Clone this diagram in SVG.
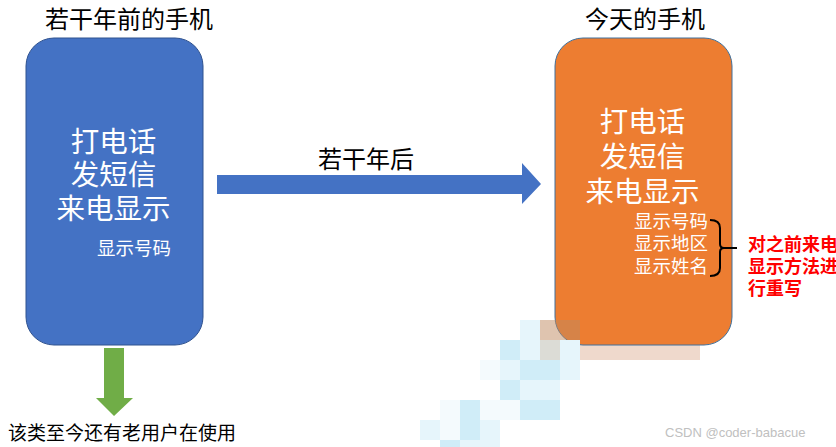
<svg xmlns="http://www.w3.org/2000/svg" width="836" height="447" viewBox="0 0 836 447">
<style>
text{font-family:"Noto Sans CJK SC","Noto Sans",sans-serif;}
.title{font-size:24px;fill:#000;text-anchor:middle;}
.big{font-size:28.5px;fill:#fff;text-anchor:middle;}
.small{font-size:18.5px;fill:#fff;}
.red{font-size:18px;fill:#ff0000;font-weight:bold;}
.wm{font-family:"Liberation Sans",sans-serif;font-size:13px;fill:#c0c0c0;}
.m1{fill:#d0edf8;}
.m2{fill:#e6f5fb;}
.m3{fill:#f4fafd;}
</style>
<rect width="836" height="447" fill="#fff"/>
<g id="mosaic-back">
<rect x="580" y="342" width="120" height="18" fill="#efd9cc"/>
</g>
<g id="old-phone">
<text class="title" x="129" y="27.5">若干年前的手机</text>
<rect x="26" y="38" width="177" height="307" rx="28" fill="#4472C4" stroke="#2F528F" stroke-width="1"/>
<text class="big" x="113.5" y="152">打电话</text>
<text class="big" x="113.5" y="185">发短信</text>
<text class="big" x="113.5" y="219">来电显示</text>
<text class="small" x="97" y="255">显示号码</text>
</g>
<g id="new-phone">
<text class="title" x="645" y="27.5">今天的手机</text>
<rect x="555" y="38" width="177" height="307" rx="28" fill="#ED7D31" stroke="#41719C" stroke-width="1"/>
<text class="big" x="642.5" y="132">打电话</text>
<text class="big" x="642.5" y="167">发短信</text>
<text class="big" x="642.5" y="202">来电显示</text>
<text class="small" x="634" y="228">显示号码</text>
<text class="small" x="634" y="250">显示地区</text>
<text class="small" x="634" y="273">显示姓名</text>
</g>
<g id="mosaic">
<rect x="540" y="320" width="40" height="20" fill="#c08a60" opacity="0.5"/>
<rect x="560" y="340" width="20" height="20" class="m2"/>
<rect x="520" y="320" width="20" height="20" class="m2"/>
<rect x="500" y="340" width="20" height="20" class="m1"/>
<rect x="520" y="340" width="20" height="20" class="m2"/>
<rect x="540" y="340" width="20" height="20" fill="#dcdcd6"/>
<rect x="480" y="360" width="20" height="20" class="m3"/>
<rect x="500" y="360" width="20" height="20" class="m2"/>
<rect x="520" y="360" width="40" height="20" class="m1"/>
<rect x="560" y="360" width="20" height="20" class="m2"/>
<rect x="500" y="380" width="20" height="20" class="m1"/>
<rect x="520" y="380" width="40" height="20" class="m2"/>
<rect x="440" y="400" width="20" height="20" class="m3"/>
<rect x="460" y="400" width="20" height="20" class="m1"/>
<rect x="480" y="400" width="40" height="20" class="m3"/>
<rect x="520" y="400" width="40" height="20" class="m1"/>
<rect x="420" y="420" width="20" height="20" class="m2"/>
<rect x="440" y="420" width="20" height="20" class="m3"/>
<rect x="460" y="420" width="20" height="20" class="m1"/>
<rect x="480" y="420" width="20" height="20" class="m2"/>
<rect x="440" y="440" width="20" height="7" class="m1"/>
<rect x="460" y="440" width="40" height="7" class="m2"/>
</g>
<g id="note">
<text class="red" x="748" y="251">对之前来电</text>
<text class="red" x="748" y="273">显示方法进</text>
<text class="red" x="748" y="295">行重写</text>
</g>
<g id="connectors">
<path d="M217,175 H522 V163 L541,184 L522,204 V194 H217 Z" fill="#4472C4"/>
<text class="title" x="366" y="168">若干年后</text>
<path d="M104,348 H124 V398 H133 L114,416 L96,398 H104 Z" fill="#70AD47"/>
<text x="8" y="440" style="font-size:19px;fill:#000;">该类至今还有老用户在使用</text>
<path d="M710,220 Q720,220 720,228 V244 Q720,248 724,248 H737 M724,248 Q720,248 720,252 V268 Q720,276 710,276" fill="none" stroke="#000" stroke-width="2"/>
</g>
<text class="wm" x="665" y="437">CSDN @coder-babacue</text>
</svg>
